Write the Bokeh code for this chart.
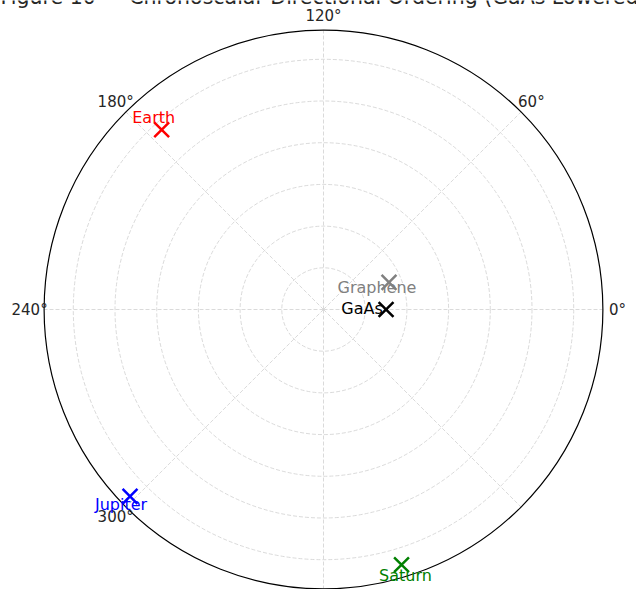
import numpy as np
from bokeh.plotting import figure
from bokeh.models import ColumnDataSource, Range1d
from bokeh.core.properties import value
from bokeh.embed import file_html
from bokeh.resources import INLINE

# Materials / bodies placed on the polar chart
names = ["GaAs", "Graphene", "Earth", "Jupiter", "Saturn"]
theta_deg = [0.0, 22.5, 132.0, 224.0, 287.0]
radius = [1.5, 1.7, 5.8, 6.45, 6.4]
colors = ["black", "gray", "red", "blue", "green"]

# Angular grid: 8 spokes, only the first six carry a label
spoke_angles = [0, 45, 90, 135, 180, 225, 270, 315]
spoke_labels = ["0°", "60°", "120°", "180°", "240°", "300°"]

# Radial grid
ring_radii = [1, 2, 3, 4, 5, 6]
r_max = 6.7

title_text = "Figure 10 — Chronoscalar Directional Ordering (GaAs Lowered)"

W, H = 636, 589
cx, cy = 323.0, 309.0      # pixel position of the pole
scale = 41.7               # pixels per radial unit

p = figure(width=W, height=H, output_backend="svg", toolbar_location=None,
           min_border=0, x_axis_type=None, y_axis_type=None)
p.x_range = Range1d(-cx / scale, (W - cx) / scale)
p.y_range = Range1d((cy - H) / scale, cy / scale)
p.xgrid.visible = False
p.ygrid.visible = False
p.outline_line_color = None
p.background_fill_color = "white"
p.border_fill_color = "white"

grid_color = "#d0d0d0"

# dashed rings
p.circle(x=[0] * len(ring_radii), y=[0] * len(ring_radii), radius=ring_radii,
         fill_color=None, line_color=grid_color, line_width=0.8, line_dash="4 2")

# dashed spokes
sp = np.deg2rad(spoke_angles)
p.multi_line(xs=[[0, r_max * np.cos(a)] for a in sp],
             ys=[[0, r_max * np.sin(a)] for a in sp],
             line_color=grid_color, line_width=0.8, line_dash="4 2")

# outer boundary
p.circle(x=[0], y=[0], radius=[r_max], fill_color=None,
         line_color="black", line_width=1.2)

# angular tick labels
lab_r = r_max * 1.052
la = np.deg2rad(spoke_angles[:len(spoke_labels)])
p.text(x=lab_r * np.cos(la), y=lab_r * np.sin(la), text=spoke_labels,
       text_font=value("DejaVu Sans"), text_font_size="15px",
       text_color="#262626", text_align="center", text_baseline="middle")

# data markers
th = np.deg2rad(theta_deg)
r = np.array(radius)
src = ColumnDataSource(dict(
    x=r * np.cos(th), y=r * np.sin(th), name=names, color=colors,
    dx=[-24, -12, -8, -9, 4], dy=[-1, 5, -12, 8, 11],
))
p.scatter("x", "y", source=src, marker="x", size=21, line_width=2.5,
          line_color="color")
p.text("x", "y", text="name", source=src, x_offset="dx", y_offset="dy",
       text_color="color", text_font=value("DejaVu Sans"),
       text_font_size="16px", text_align="center", text_baseline="middle")

# title
p.text(x=[0], y=[(cy + 4) / scale], text=[title_text],
       text_font=value("DejaVu Sans"), text_font_size="20.5px",
       text_color="#262626", text_align="center", text_baseline="alphabetic")

open("out.html", "w").write(file_html(p, INLINE))
